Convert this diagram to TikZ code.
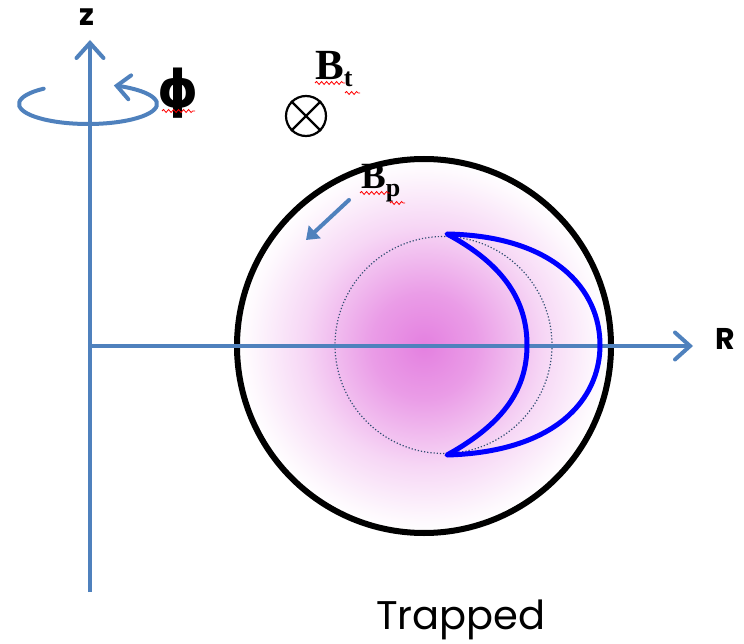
\documentclass[tikz,border=0pt]{standalone}
\usepackage{fontspec}
\setmainfont{Liberation Serif}
\setsansfont{Poppins}
\newfontfamily\dejavu{DejaVu Sans}
\usetikzlibrary{arrows.meta,decorations.pathmorphing}
\definecolor{axisblue}{RGB}{79,129,189}
\definecolor{pinkc}{RGB}{228,128,224}
\definecolor{crescent}{RGB}{0,0,255}
\pgfdeclareradialshading{pinkglow}{\pgfpoint{0bp}{0bp}}{color(0bp)=(pinkc); color(7bp)=(pinkc!78!white); color(16bp)=(pinkc!32!white); color(23bp)=(pinkc!6!white); color(25bp)=(white); color(50bp)=(white)}
\begin{document}
\begin{tikzpicture}[x=1pt,y=-1pt,
  axis/.style={draw=axisblue,line width=4pt,-{Straight Barb[length=15pt,width=27pt,line width=4pt,line cap=round]}},
  lbl/.style={font=\sffamily\bfseries\fontsize{30}{30}\selectfont,inner sep=0pt},
  squig/.style={draw=red,line width=0.8pt,decorate,decoration={snake,amplitude=1.5pt,segment length=5pt}}]
\useasboundingbox (0,0) rectangle (744,644);
% torus cross-section
\path[shading=pinkglow] (424,346) circle[radius=187];
\draw[line width=6pt] (424,346) circle[radius=187];
% dotted flux surface
\draw[axisblue!60!black,line width=1.2pt,dotted] (443.5,345) circle[radius=108.5];
% axes
\coordinate (zbot) at (90,592);
\coordinate (ztop) at (90,40);
\coordinate (rorg) at (90,346);
\coordinate (rend) at (693,346);
\draw[axis] (zbot) -- (ztop);
\draw[axis] (rorg) -- (rend);
\node[lbl] (zl) at (87,17) {z};
\node[lbl] (rl) at (725,339) {R};
% phi rotation
\draw[draw=axisblue,line width=4pt,line cap=round,-{Straight Barb[length=13pt,width=24pt,line width=4pt,line cap=round]}]
  (88,104) ++(-130:69 and 20) arc[start angle=-130,end angle=-428,x radius=69,y radius=20];
\node[inner sep=0pt,font=\dejavu\bfseries\fontsize{52}{52}\selectfont] (phi) at (178,93) {ϕ};
\draw[squig] (162,111) -- (195,111);
% toroidal field
\node[draw,circle,line width=2.2pt,minimum size=40pt,inner sep=0pt] (bt) at (306,116) {};
\draw[line width=2.2pt] (bt.45) -- (bt.225) (bt.135) -- (bt.315);
\node[anchor=base west,inner sep=0pt,font=\bfseries\fontsize{43}{43}\selectfont] (btl) at (315,80) {B\raisebox{-7pt}{\fontsize{26}{26}\selectfont t}};
\draw[squig] (315,83) -- (345,83);
\draw[squig] (345,93) -- (360,93);
% poloidal field
\node[anchor=base west,inner sep=0pt,font=\bfseries\fontsize{37}{37}\selectfont] (bpl) at (361,189) {B\raisebox{-8pt}{\fontsize{26}{26}\selectfont p}};
\draw[squig] (360,193) -- (390,193);
\draw[squig] (390,203) -- (405,203);
\coordinate (bps) at (349,200);
\coordinate (bpe) at (306,240);
\draw[axisblue,line width=4pt,line cap=round,-{Triangle[length=12pt,width=17pt]}] (bps) -- (bpe);
% trapped (banana) orbit
\coordinate (tipA) at (447,234);
\coordinate (tipB) at (447,455);
\draw[crescent,line width=5pt,line join=round]
  (tipA) .. controls (555,236) and (600,290) .. (600,345)
  .. controls (600,400) and (555,452) .. (tipB)
  .. controls (505,423) and (527,388) .. (527,345)
  .. controls (527,302) and (505,265) .. (tipA) -- cycle;
\node[font=\sffamily\fontsize{40}{40}\selectfont,inner sep=0pt] (tr) at (461,620) {Trapped};
\end{tikzpicture}
\end{document}
